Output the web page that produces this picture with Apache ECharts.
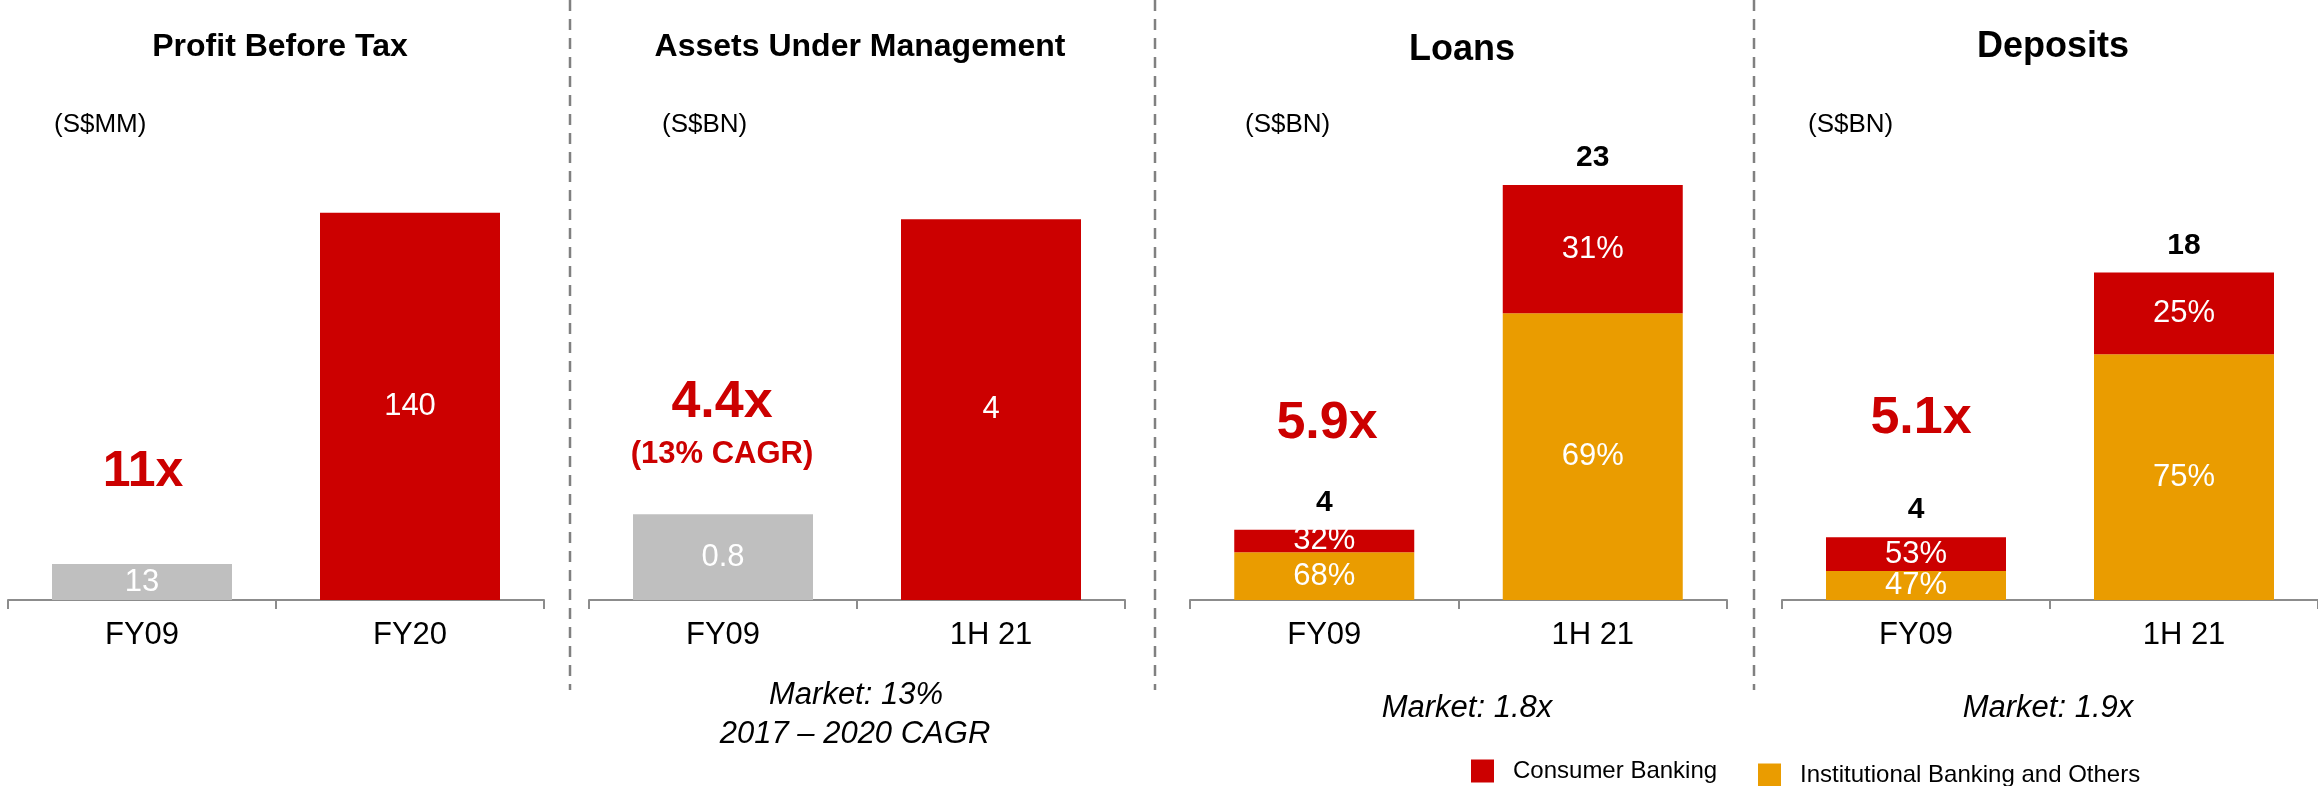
<!DOCTYPE html>
<html>
<head>
<meta charset="utf-8">
<script src="https://cdn.jsdelivr.net/npm/echarts@6/dist/echarts.min.js"></script>
<style>
  html, body { margin: 0; padding: 0; background: #fff; }
  #chart { width: 2318px; height: 786px; }
</style>
</head>
<body>
<div id="chart"></div>
<script>
// values
var pbtCats = ['FY09', 'FY20'];
var pbtValues = [13, 140];
var pbtLabels = ['13', '140'];

var aumCats = ['FY09', '1H 21'];
var aumValues = [0.9, 4.0];
var aumLabels = ['0.8', '4'];

var loanCats = ['FY09', '1H 21'];
var loanConsumer = [1.25, 7.1];
var loanInst = [2.65, 15.9];
var loanConsumerPct = ['32%', '31%'];
var loanInstPct = ['68%', '69%'];
var loanTotals = ['4', '23'];

var depCats = ['FY09', '1H 21'];
var depConsumer = [1.85, 4.5];
var depInst = [1.6, 13.5];
var depConsumerPct = ['53%', '25%'];
var depInstPct = ['47%', '75%'];
var depTotals = ['4', '18'];

var RED = '#CC0000';
var ORANGE = '#EA9C00';
var GREY = '#BFBFBF';
var FONT = '"Liberation Sans", Arial, Helvetica, sans-serif';

function xAx(i, cats) {
    return {
        type: 'category', gridIndex: i, data: cats,
        axisLine: { show: true, lineStyle: { color: '#8C8C8C', width: 2 } },
        axisTick: { show: true, alignWithLabel: false, length: 9, lineStyle: { color: '#8C8C8C', width: 2 } },
        axisLabel: { color: '#000', fontSize: 31, fontFamily: FONT, margin: 20 }
    };
}
function yAx(i, max) {
    return { type: 'value', gridIndex: i, min: 0, max: max, show: false, splitLine: { show: false } };
}
function colored(values) {
    return values.map(function (v, i) {
        return { value: v, itemStyle: { color: i === 0 ? GREY : RED } };
    });
}
function inside(texts) {
    return {
        show: true, position: 'inside', color: '#fff', fontSize: 31, fontFamily: FONT,
        formatter: function (p) { return texts[p.dataIndex]; }
    };
}
function txt(x, y, text, size, opts) {
    opts = opts || {};
    return {
        type: 'text', x: x, y: y, silent: true,
        style: {
            text: text,
            font: (opts.italic ? 'italic ' : '') + (opts.bold ? 'bold ' : '') + size + 'px ' + FONT,
            fill: opts.color || '#000',
            textAlign: opts.align || 'center',
            textVerticalAlign: 'middle'
        }
    };
}
function divider(x) {
    return {
        type: 'line', silent: true,
        shape: { x1: x, y1: 0, x2: x, y2: 690 },
        style: { stroke: '#808080', lineWidth: 2.5, lineDash: [11, 8] }
    };
}

var chart = echarts.init(document.getElementById('chart'));

var option = {
    animation: false,
    grid: [
        { left: 8, width: 536, top: 185, height: 415 },
        { left: 589, width: 536, top: 124, height: 476 },
        { left: 1190, width: 537, top: 149, height: 451 },
        { left: 1782, width: 536, top: 145, height: 455 }
    ],
    xAxis: [xAx(0, pbtCats), xAx(1, aumCats), xAx(2, loanCats), xAx(3, depCats)],
    yAxis: [yAx(0, 150), yAx(1, 5), yAx(2, 25), yAx(3, 25)],
    legend: [
        {
            data: ['Consumer Banking'], left: 1466, top: 754, itemWidth: 23, itemHeight: 23,
            icon: 'rect', selectedMode: false,
            textStyle: { fontSize: 24, fontFamily: FONT, color: '#000', padding: [0, 0, 0, 14] }
        },
        {
            data: ['Institutional Banking and Others'], left: 1753, top: 758, itemWidth: 23, itemHeight: 23,
            icon: 'rect', selectedMode: false,
            textStyle: { fontSize: 24, fontFamily: FONT, color: '#000', padding: [0, 0, 0, 14] }
        }
    ],
    series: [
        {
            name: 'Profit Before Tax', type: 'bar', xAxisIndex: 0, yAxisIndex: 0, barWidth: 180,
            data: colored(pbtValues), label: inside(pbtLabels)
        },
        {
            name: 'Assets Under Management', type: 'bar', xAxisIndex: 1, yAxisIndex: 1, barWidth: 180,
            data: colored(aumValues), label: inside(aumLabels)
        },
        {
            name: 'Institutional Banking and Others', type: 'bar', xAxisIndex: 2, yAxisIndex: 2,
            stack: 'loans', barWidth: 180, itemStyle: { color: ORANGE },
            data: loanInst, label: inside(loanInstPct)
        },
        {
            name: 'Consumer Banking', type: 'bar', xAxisIndex: 2, yAxisIndex: 2,
            stack: 'loans', barWidth: 180, itemStyle: { color: RED },
            data: loanConsumer, label: inside(loanConsumerPct)
        },
        {
            name: 'Loans total', type: 'bar', xAxisIndex: 2, yAxisIndex: 2,
            stack: 'loans', barWidth: 180, data: [0, 0],
            label: {
                show: true, position: 'top', distance: 12, color: '#000', fontSize: 30,
                fontWeight: 'bold', fontFamily: FONT,
                formatter: function (p) { return loanTotals[p.dataIndex]; }
            }
        },
        {
            name: 'Institutional Banking and Others', type: 'bar', xAxisIndex: 3, yAxisIndex: 3,
            stack: 'deposits', barWidth: 180, itemStyle: { color: ORANGE },
            data: depInst, label: inside(depInstPct)
        },
        {
            name: 'Consumer Banking', type: 'bar', xAxisIndex: 3, yAxisIndex: 3,
            stack: 'deposits', barWidth: 180, itemStyle: { color: RED },
            data: depConsumer, label: inside(depConsumerPct)
        },
        {
            name: 'Deposits total', type: 'bar', xAxisIndex: 3, yAxisIndex: 3,
            stack: 'deposits', barWidth: 180, data: [0, 0],
            label: {
                show: true, position: 'top', distance: 12, color: '#000', fontSize: 30,
                fontWeight: 'bold', fontFamily: FONT,
                formatter: function (p) { return depTotals[p.dataIndex]; }
            }
        }
    ],
    graphic: [
        divider(570), divider(1155), divider(1754),

        txt(280, 47, 'Profit Before Tax', 32, { bold: true }),
        txt(860, 47, 'Assets Under Management', 32, { bold: true }),
        txt(1462, 50, 'Loans', 36, { bold: true }),
        txt(2053, 47, 'Deposits', 36, { bold: true }),

        txt(54, 125, '(S$MM)', 26, { align: 'left' }),
        txt(662, 125, '(S$BN)', 26, { align: 'left' }),
        txt(1245, 125, '(S$BN)', 26, { align: 'left' }),
        txt(1808, 125, '(S$BN)', 26, { align: 'left' }),

        txt(143, 472, '11x', 50, { bold: true, color: RED }),
        txt(722, 403, '4.4x', 52, { bold: true, color: RED }),
        txt(722, 454, '(13% CAGR)', 31, { bold: true, color: RED }),
        txt(1327, 424, '5.9x', 52, { bold: true, color: RED }),
        txt(1921, 419, '5.1x', 52, { bold: true, color: RED }),

        txt(856, 695, 'Market: 13%', 31, { italic: true }),
        txt(855, 734, '2017 \u2013 2020 CAGR', 31, { italic: true }),
        txt(1467, 708, 'Market: 1.8x', 31, { italic: true }),
        txt(2048, 708, 'Market: 1.9x', 31, { italic: true })
    ]
};

chart.setOption(option);
</script>
</body>
</html>
